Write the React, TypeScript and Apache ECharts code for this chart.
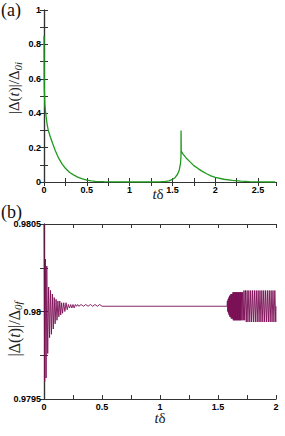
import React, { useEffect, useRef } from "react";
import * as echarts from "echarts";

// Panel (a): |Δ(t)|/Δ0i vs tδ
const tA = [0, 0.003, 0.01, 0.02, 0.035, 0.05, 0.075, 0.1, 0.13, 0.17, 0.21, 0.25, 0.3, 0.35, 0.4, 0.45, 0.5, 0.55, 0.6, 0.7, 0.8, 1.0, 1.2, 1.35, 1.42, 1.46, 1.5, 1.53, 1.56, 1.58, 1.595, 1.6, 1.601, 1.603, 1.62, 1.66, 1.7, 1.75, 1.8, 1.85, 1.9, 1.95, 2.0, 2.1, 2.2, 2.3, 2.4, 2.5, 2.6, 2.7];
const yA = [0.85, 0.55, 0.45, 0.40, 0.34, 0.30, 0.26, 0.225, 0.185, 0.14, 0.105, 0.08, 0.055, 0.04, 0.027, 0.018, 0.011, 0.007, 0.004, 0.002, 0.001, 0, 0, 0.001, 0.003, 0.007, 0.015, 0.025, 0.045, 0.07, 0.11, 0.15, 0.30, 0.18, 0.165, 0.14, 0.12, 0.095, 0.078, 0.062, 0.048, 0.036, 0.027, 0.016, 0.009, 0.005, 0.002, 0.001, 0, 0];

// Panel (b): |Δ(t)|/Δ0f vs tδ (extrema)
const tB = [
  0, 0.006, 0.012, 0.018, 0.024, 0.032, 0.040, 0.048, 0.056, 0.064, 0.072, 0.080, 0.088, 0.096,
  0.104, 0.112, 0.120, 0.128, 0.136, 0.144, 0.152, 0.160, 0.170, 0.180, 0.190, 0.200, 0.210,
  0.220, 0.230, 0.240, 0.250, 0.260, 0.270, 0.280, 0.290, 0.300, 0.320, 0.340, 0.360, 0.380,
  0.400, 0.420, 0.440, 0.460, 0.480, 0.500, 1.570,
  1.578, 1.581, 1.584, 1.587, 1.590, 1.593, 1.596, 1.599, 1.602, 1.605, 1.608, 1.611, 1.614,
  1.617, 1.620, 1.623, 1.626, 1.629, 1.632, 1.635, 1.638, 1.641, 1.644, 1.647, 1.650, 1.653,
  1.656, 1.659, 1.662, 1.665, 1.668, 1.671, 1.674, 1.677, 1.680, 1.683, 1.686, 1.689, 1.692,
  1.695, 1.698, 1.702, 1.707, 1.712, 1.718, 1.724, 1.730, 1.737, 1.744, 1.751, 1.758, 1.766,
  1.774, 1.782, 1.790, 1.798, 1.806, 1.814, 1.822, 1.830, 1.838, 1.846, 1.854, 1.862, 1.870,
  1.878, 1.886, 1.894, 1.902, 1.910, 1.918, 1.926, 1.934, 1.942, 1.950, 1.958, 1.966, 1.974,
  1.982, 1.990, 1.998, 2.0,
];
const yB = [
  0.98050, 0.97960, 0.98030, 0.97962, 0.98026, 0.97976, 0.98014, 0.97985, 0.98012, 0.97987, 0.98010, 0.97990, 0.98008, 0.97993,
  0.98007, 0.97995, 0.98006, 0.97997, 0.98006, 0.97998, 0.98005, 0.97999, 0.98005, 0.98000, 0.98005, 0.98001, 0.98004,
  0.98002, 0.98004, 0.98002, 0.98004, 0.98002, 0.98004, 0.98003, 0.98004, 0.98003, 0.98004, 0.98003, 0.98004, 0.98003,
  0.98004, 0.98003, 0.98004, 0.98003, 0.98004, 0.98003, 0.98003,
  0.98003, 0.98006, 0.98000, 0.98007, 0.97999, 0.98008, 0.97998, 0.98009, 0.97997, 0.98009, 0.97997, 0.98010, 0.97996,
  0.98010, 0.97996, 0.98010, 0.97996, 0.98011, 0.97995, 0.98011, 0.97995, 0.98011, 0.97995, 0.98011, 0.97995, 0.98011,
  0.97995, 0.98011, 0.97995, 0.98011, 0.97995, 0.98011, 0.97995, 0.98011, 0.97995, 0.98011, 0.97995, 0.98011, 0.97995,
  0.98011, 0.97995, 0.98011, 0.97995, 0.98011, 0.97995, 0.98012, 0.97995, 0.98012, 0.97994, 0.98012, 0.97994, 0.98012,
  0.97994, 0.98012, 0.97994, 0.98012, 0.97994, 0.98012, 0.97994, 0.98012, 0.97994, 0.98012, 0.97994, 0.98012, 0.97994,
  0.98012, 0.97994, 0.98012, 0.97994, 0.98012, 0.97994, 0.98012, 0.97994, 0.98012, 0.97994, 0.98012, 0.97994, 0.98012,
  0.97994, 0.98012, 0.97994, 0.98003,
];

const SERIF = "'Liberation Serif', 'DejaVu Serif', serif";
const SANS = "'Liberation Sans', Arial, sans-serif";
const AXIS_COLOR = "#333";
const NAME_COLOR = "#222";

function isMultiple(v: number, step: number) {
  const r = v / step;
  return Math.abs(r - Math.round(r)) < 1e-6;
}

function fmt(v: number) {
  return String(Number(v.toFixed(4)));
}

const tickStyle = { show: true, inside: true, length: 4, lineStyle: { color: AXIS_COLOR, width: 1 } };
const lineStyle = { show: true, lineStyle: { color: AXIS_COLOR, width: 1.2 } };
const labelStyle = { fontFamily: SANS, fontWeight: "bold" as const, fontSize: 9, color: "#000" };

function xAxes(gridIndex: number, max: number) {
  const common = { type: "value" as const, gridIndex, min: 0, max, interval: 0.25, splitLine: { show: false } };
  return [
    {
      ...common,
      position: "bottom" as const,
      axisLine: lineStyle,
      axisTick: tickStyle,
      axisLabel: {
        ...labelStyle,
        margin: 3,
        showMaxLabel: isMultiple(max, 0.5),
        formatter: (v: number) => (isMultiple(v, 0.5) && v <= max + 1e-9 ? fmt(v) : ""),
      },
    },
    {
      ...common,
      position: "top" as const,
      axisLine: lineStyle,
      axisTick: tickStyle,
      axisLabel: { show: false },
    },
  ];
}

function yAxes(gridIndex: number, min: number, max: number, interval: number, labelStep: number) {
  const common = { type: "value" as const, gridIndex, min, max, interval, splitLine: { show: false } };
  return [
    {
      ...common,
      position: "left" as const,
      axisLine: lineStyle,
      axisTick: tickStyle,
      axisLabel: {
        ...labelStyle,
        margin: 3,
        formatter: (v: number) => (isMultiple(v, labelStep) ? fmt(v) : ""),
      },
    },
    {
      ...common,
      position: "right" as const,
      axisLine: lineStyle,
      axisTick: tickStyle,
      axisLabel: { show: false },
    },
  ];
}

function yName(sub: string, cx: number, cy: number, size: number) {
  return {
    type: "text",
    x: cx,
    y: cy,
    rotation: Math.PI / 2,
    style: {
      text: `|Δ({it|t})|/Δ{sub|${sub}}`,
      font: `${size}px ${SERIF}`,
      fill: NAME_COLOR,
      align: "center",
      verticalAlign: "middle",
      rich: {
        it: { fontFamily: SERIF, fontStyle: "italic", fontSize: size, fill: NAME_COLOR },
        sub: { fontFamily: SERIF, fontStyle: "italic", fontSize: Math.round(size * 0.7), fill: NAME_COLOR, padding: [Math.round(size * 0.5), 0, 0, 0] },
      },
    },
  };
}

function xName(cx: number, cy: number) {
  return {
    type: "text",
    x: cx,
    y: cy,
    style: {
      text: "{it|t}δ",
      font: `15px ${SERIF}`,
      fill: NAME_COLOR,
      align: "center",
      verticalAlign: "middle",
      rich: { it: { fontFamily: SERIF, fontStyle: "italic", fontSize: 15, fill: NAME_COLOR } },
    },
  };
}

export default function App() {
  const ref = useRef<HTMLDivElement>(null);
  useEffect(() => {
    if (!ref.current) return;
    const chart = echarts.init(ref.current, null, { renderer: "svg" });
    const dataA = tA.map((t, i) => [t, yA[i]]);
    const dataB = tB.map((t, i) => [t, yB[i]]);
    chart.setOption({
      animation: false,
      backgroundColor: "#fff",
      grid: [
        { left: 44, width: 232, top: 10, height: 172, outerBoundsMode: "none", containLabel: false },
        { left: 44, width: 232, top: 224, height: 175, outerBoundsMode: "none", containLabel: false },
      ],
      xAxis: [...xAxes(0, 2.71), ...xAxes(1, 2)],
      yAxis: [
        ...yAxes(0, 0, 1, 0.1, 0.2),
        ...yAxes(1, 0.9795, 0.9805, 0.00025, 0.0005),
      ],
      series: [
        {
          type: "line",
          xAxisIndex: 0,
          yAxisIndex: 0,
          data: dataA,
          showSymbol: false,
          smooth: false,
          lineStyle: { color: "#1f9a1f", width: 1.3 },
          z: 1,
        },
        {
          type: "line",
          xAxisIndex: 2,
          yAxisIndex: 2,
          data: dataB,
          showSymbol: false,
          smooth: false,
          lineStyle: { color: "#7b0f55", width: 0.9 },
          z: 1,
        },
      ],
      graphic: [
        { type: "text", left: 1, top: 1, style: { text: "(a)", font: `18px ${SERIF}`, fill: "#111" } },
        { type: "text", left: 1, top: 203, style: { text: "(b)", font: `18px ${SERIF}`, fill: "#111" } },
        yName("0i", 14, 88, 15),
        yName("0f", 14, 329, 16),
        xName(158, 194),
        xName(160, 418),
      ],
    });
    return () => chart.dispose();
  }, []);
  return <div ref={ref} style={{ position: "absolute", left: 0, top: 0, width: 285, height: 436 }} />;
}
